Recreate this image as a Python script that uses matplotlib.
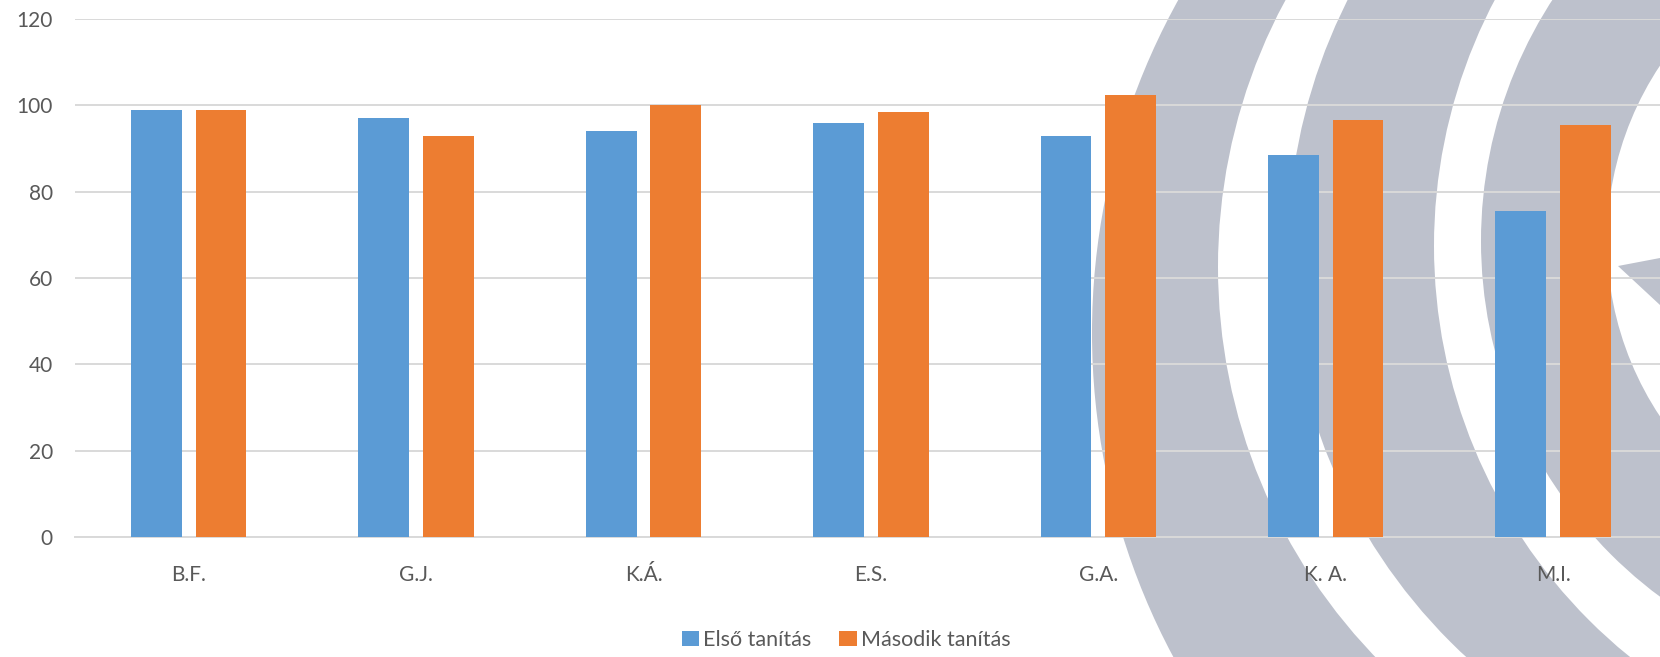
import matplotlib
matplotlib.use('Agg')
import matplotlib.pyplot as plt
from matplotlib.patches import Circle, Polygon
import numpy as np

# data
names = ['B.F.', 'G.J.', 'K.Á.', 'E.S.', 'G.A.', 'K. A.', 'M.I.']
elso = [99, 97, 94, 96, 93, 88.5, 75.5]
masodik = [99, 93, 100, 98.5, 102.5, 96.5, 95.5]
series_labels = ['Első tanítás', 'Második tanítás']
y_ticks = [0, 20, 40, 60, 80, 100, 120]

blue = '#5B9BD5'
orange = '#ED7D31'
text_col = '#595959'
grid_col = '#D9D9D9'
mark_col = '#BDC1CC'

plt.rcParams['font.family'] = ['Lato', 'DejaVu Sans']

W, H = 1660, 657
fig = plt.figure(figsize=(W / 100, H / 100), dpi=100)

# background watermark (pixel coordinates, y down)
bg = fig.add_axes([0, 0, 1, 1], zorder=0)
bg.set_xlim(0, W)
bg.set_ylim(H, 0)
bg.axis('off')
# (cx, cy, r, colour) painted in order, outer to inner
rings = [
    (1778, 333, 686, mark_col),
    (1780, 267, 562, 'white'),
    (1842, 250, 554, mark_col),
    (1963, 246, 529, 'white'),
    (1924, 241, 443, mark_col),
    (1924, 241, 317, 'white'),
]
for cx, cy, r, c in rings:
    bg.add_patch(Circle((cx, cy), r, facecolor=c, edgecolor='none'))
bg.add_patch(Polygon([(1618, 266), (1660, 258), (1660, 305)], closed=True,
                     facecolor=mark_col, edgecolor='none'))

ax = fig.add_axes([75 / W, 1 - 537 / H, (W - 75) / W, (537 - 19) / H], zorder=1)
ax.patch.set_alpha(0)

x = np.arange(len(names))
w = 0.223
off = 0.142
ax.bar(x - off, elso, w, color=blue, label=series_labels[0], zorder=3)
ax.bar(x + off, masodik, w, color=orange, label=series_labels[1], zorder=3)

ax.set_ylim(0, 120)
ax.set_xlim(-0.5, -0.5 + (W - 75) / 227.4)
ax.set_yticks(y_ticks)
ax.set_xticks(x)
ax.set_xticklabels(names)
ax.yaxis.grid(True, color=grid_col, linewidth=1.4, zorder=0)
ax.set_axisbelow(True)
for s in ['top', 'right', 'left']:
    ax.spines[s].set_visible(False)
ax.spines['bottom'].set_color(grid_col)
ax.spines['bottom'].set_linewidth(1.4)
ax.tick_params(axis='both', length=0, labelsize=15, labelcolor=text_col)
ax.tick_params(axis='y', pad=16)
ax.tick_params(axis='x', pad=20)

fig.legend(loc='center', bbox_to_anchor=(846 / W, 1 - 640 / H), ncol=2,
           frameon=False, fontsize=15.5, labelcolor=text_col,
           handlelength=0.8, handleheight=0.75, handletextpad=0.2,
           columnspacing=1.3)

fig.savefig('out.png', dpi=100)
